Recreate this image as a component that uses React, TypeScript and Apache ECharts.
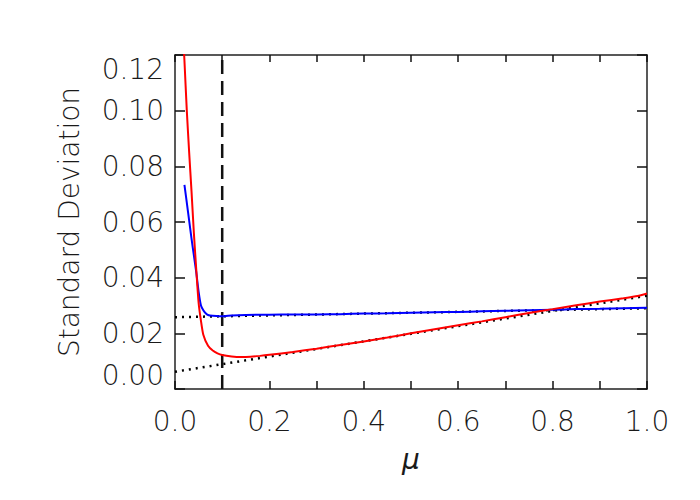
import React, { useEffect, useRef } from 'react';
import * as echarts from 'echarts';

const xTickLabels = ['0.0', '0.2', '0.4', '0.6', '0.8', '1.0'];
const yTickLabels = ['0.00', '0.02', '0.04', '0.06', '0.08', '0.10', '0.12'];

const redMu = [0.015, 0.02, 0.025, 0.03, 0.035, 0.04, 0.045, 0.05, 0.055, 0.06, 0.07, 0.08, 0.09, 0.1, 0.12, 0.14, 0.16, 0.18, 0.2, 0.25, 0.3, 0.35, 0.4, 0.45, 0.5, 0.55, 0.6, 0.65, 0.7, 0.75, 0.8, 0.85, 0.9, 0.95, 0.98, 1.0];
const redSd = [0.135, 0.118, 0.1, 0.085, 0.071, 0.056, 0.043, 0.031, 0.0245, 0.0195, 0.0155, 0.0138, 0.0128, 0.0122, 0.0117, 0.0115, 0.0116, 0.0119, 0.0123, 0.0133, 0.0145, 0.0158, 0.0171, 0.0185, 0.02, 0.0215, 0.0229, 0.0243, 0.0258, 0.0273, 0.0287, 0.0301, 0.0314, 0.0326, 0.0334, 0.0343];

const blueMu = [0.02, 0.025, 0.03, 0.035, 0.04, 0.045, 0.05, 0.055, 0.06, 0.065, 0.07, 0.08, 0.09, 0.1, 0.12, 0.15, 0.2, 0.25, 0.3, 0.35, 0.4, 0.45, 0.5, 0.55, 0.6, 0.65, 0.7, 0.75, 0.8, 0.85, 0.9, 0.95, 1.0];
const blueSd = [0.0733, 0.067, 0.0605, 0.054, 0.048, 0.042, 0.035, 0.03, 0.0283, 0.0272, 0.0266, 0.0263, 0.0262, 0.0261, 0.0264, 0.0266, 0.0267, 0.0268, 0.0268, 0.0269, 0.0271, 0.0272, 0.0274, 0.0276, 0.0277, 0.0279, 0.0281, 0.0283, 0.0285, 0.0287, 0.0288, 0.029, 0.0292];

const blueFitMu = [0, 1];
const blueFitSd = [0.0258, 0.029];
const redFitMu = [0, 1];
const redFitSd = [0.0062, 0.0335];

const cutoffMu = [0.1, 0.1];
const cutoffSd = [0, 0.12];

const zip = (a: number[], b: number[]) => a.map((v, i) => [v, b[i]]);

const FONT = 'DejaVu Sans';

export default function App() {
  const ref = useRef<HTMLDivElement>(null);
  useEffect(() => {
    if (!ref.current) return;
    const chart = echarts.init(ref.current, undefined, { renderer: 'svg' });
    const axisLine = { show: true, onZero: false, lineStyle: { color: '#222', width: 1.5 } };
    const tickStyle = { color: '#111', width: 1.5 };
    const txt = { fontFamily: FONT, fontWeight: 200, color: '#1a1a1a' };
    chart.setOption({
      animation: false,
      backgroundColor: '#fff',
      grid: { left: 175, top: 55, right: 53, bottom: 111 },
      xAxis: [
        {
          type: 'value', min: 0, max: 1, interval: 0.2, position: 'bottom',
          name: 'μ', nameLocation: 'middle', nameGap: 56,
          nameTextStyle: { ...txt, fontSize: 28, fontStyle: 'italic' },
          axisLine,
          axisTick: { show: true, inside: true, length: 8, lineStyle: tickStyle },
          minorTick: { show: true, splitNumber: 2, length: 8, lineStyle: tickStyle },
          splitLine: { show: false },
          axisLabel: {
            ...txt, margin: 18, fontSize: 28,
            formatter: (v: number) => xTickLabels[Math.round(v / 0.2)] ?? '',
          },
        },
        {
          type: 'value', min: 0, max: 1, interval: 0.2, position: 'top',
          axisLine,
          axisTick: { show: true, inside: true, length: 7, lineStyle: tickStyle },
          minorTick: { show: true, splitNumber: 2, length: 7, lineStyle: tickStyle },
          splitLine: { show: false },
          axisLabel: { show: false },
        },
      ],
      yAxis: [
        {
          type: 'value', min: 0, max: 0.12, interval: 0.02, position: 'left',
          name: 'Standard Deviation', nameLocation: 'middle', nameGap: 92,
          nameTextStyle: { ...txt, fontSize: 28 },
          axisLine,
          axisTick: { show: true, inside: true, length: 10, lineStyle: tickStyle },
          splitLine: { show: false },
          axisLabel: {
            ...txt, margin: 11, fontSize: 28,
            verticalAlignMinLabel: 'bottom', verticalAlignMaxLabel: 'top',
            formatter: (v: number) => yTickLabels[Math.round(v / 0.02)] ?? '',
          },
        },
        {
          type: 'value', min: 0, max: 0.12, interval: 0.02, position: 'right',
          axisLine,
          axisTick: { show: true, inside: true, length: 10, lineStyle: tickStyle },
          splitLine: { show: false },
          axisLabel: { show: false },
        },
      ],
      series: [
        {
          type: 'line', data: zip(blueFitMu, blueFitSd), showSymbol: false, symbol: 'none',
          lineStyle: { color: '#000', width: 2.5, type: [2, 5] }, z: 1,
        },
        {
          type: 'line', data: zip(redFitMu, redFitSd), showSymbol: false, symbol: 'none',
          lineStyle: { color: '#000', width: 2.5, type: [2, 5] }, z: 1,
        },
        {
          type: 'line', data: zip(cutoffMu, cutoffSd), showSymbol: false, symbol: 'none',
          lineStyle: { color: '#111', width: 2.5, type: [14, 7] }, z: 2,
        },
        {
          type: 'line', data: zip(blueMu, blueSd), showSymbol: false, symbol: 'none', smooth: 0.2,
          lineStyle: { color: '#0000ff', width: 2 }, z: 3,
        },
        {
          type: 'line', data: zip(redMu, redSd), showSymbol: false, symbol: 'none', smooth: 0.2,
          lineStyle: { color: '#ff0000', width: 2 }, z: 4,
        },
      ],
    });
    return () => chart.dispose();
  }, []);
  return <div ref={ref} style={{ position: 'fixed', left: 0, top: 0, width: 700, height: 500 }} />;
}
